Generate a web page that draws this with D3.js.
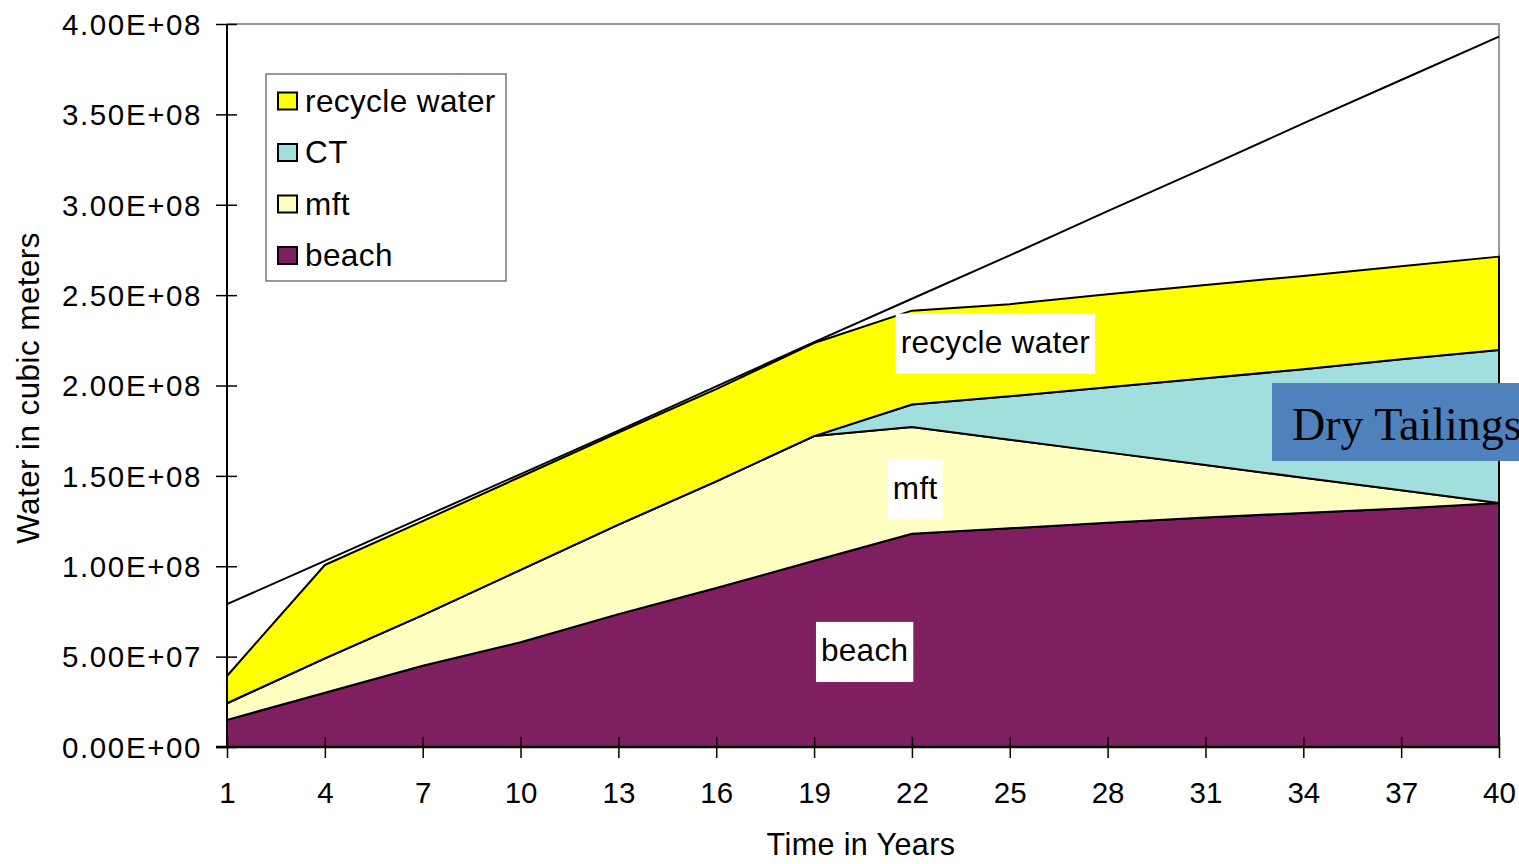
<!DOCTYPE html>
<html>
<head>
<meta charset="utf-8">
<script src="https://cdn.jsdelivr.net/npm/d3@7/dist/d3.min.js"></script>
<style>
  html, body { margin: 0; padding: 0; background: #fff; overflow: hidden; }
  svg { display: block; }
  text { font-family: "Liberation Sans", Arial, sans-serif; fill: #000; }
</style>
</head>
<body>
<svg id="chart" width="1519" height="864"></svg>
<script>
// Years on the category axis
const years = [1, 4, 7, 10, 13, 16, 19, 22, 25, 28, 31, 34, 37, 40];

// Stacked water volumes (cubic meters), bottom layer first
const beach   = [1.5e7, 3.0e7, 4.5e7, 5.8e7, 7.35e7, 8.8e7, 1.03e8, 1.18e8, 1.21e8, 1.24e8, 1.27e8, 1.295e8, 1.32e8, 1.35e8];
const mft     = [9.2e6, 1.9e7, 2.8e7, 4.0e7, 4.95e7, 5.9e7, 6.9e7, 5.9e7, 4.9e7, 3.9e7, 2.9e7, 1.95e7, 1.0e7, 0];
const ct      = [0, 0, 0, 0, 0, 0, 0, 1.25e7, 2.4e7, 3.6e7, 4.8e7, 6.0e7, 7.25e7, 8.46e7];
const recycle = [1.51e7, 5.17e7, 5.2e7, 5.15e7, 5.1e7, 5.1e7, 5.15e7, 5.19e7, 5.1e7, 5.15e7, 5.16e7, 5.16e7, 5.15e7, 5.17e7];

// Total water line drawn over the stack
const total = [7.9e7, 1.03e8, 1.27e8, 1.51e8, 1.75e8, 1.995e8, 2.24e8, 2.48e8, 2.72e8, 2.965e8, 3.205e8, 3.45e8, 3.69e8, 3.93e8];

// Axis ticks
const yTicks = [0, 5e7, 1e8, 1.5e8, 2e8, 2.5e8, 3e8, 3.5e8, 4e8];
const xTicks = years;

// Series names (stack order) and legend order
const seriesNames = ["beach", "mft", "CT", "recycle water"];
const legendNames = ["recycle water", "CT", "mft", "beach"];
const colors = { "beach": "#7f1f5f", "mft": "#ffffc2", "CT": "#a1dfdf", "recycle water": "#ffff00" };

// In-chart series labels: [text, year, value]
const areaLabels = [
  ["recycle water", 24.56, 2.232e8],
  ["mft", 22.1, 1.427e8],
  ["beach", 20.55, 5.26e7]
];
// Callout box for the dry tailings region: [text, year at left edge, value at centre]
const calloutText = "Dry Tailings";
const calloutAt = [33.04, 1.798e8];

const svg = d3.select("#chart");
const plotL = 227, plotR = 1499, plotT = 24, plotB = 747;

const x = d3.scaleLinear().domain([1, 40]).range([plotL, plotR]);
const y = d3.scaleLinear().domain([0, 4e8]).range([plotB, plotT]);

// Build table for stacking
const table = years.map((yr, i) => ({
  year: yr, "beach": beach[i], "mft": mft[i], "CT": ct[i], "recycle water": recycle[i]
}));
const stacked = d3.stack().keys(seriesNames)(table);

const area = d3.area()
  .x(d => x(d.data.year))
  .y0(d => y(d[0]))
  .y1(d => y(d[1]));

// Plot frame (top and right)
svg.append("path")
  .attr("d", `M${plotL},${plotT}H${plotR}V${plotB}`)
  .attr("fill", "none").attr("stroke", "#999").attr("stroke-width", 2);

// Stacked areas
svg.append("g").selectAll("path")
  .data(stacked)
  .join("path")
  .attr("d", area)
  .attr("fill", d => colors[d.key])
  .attr("stroke", "#000")
  .attr("stroke-width", 2)
  .attr("stroke-linejoin", "round");

// Total line
svg.append("path")
  .datum(years.map((yr, i) => [yr, total[i]]))
  .attr("d", d3.line().x(d => x(d[0])).y(d => y(d[1])))
  .attr("fill", "none").attr("stroke", "#000").attr("stroke-width", 2);

// Scientific tick format: 4.00E+08
function sci(v) {
  if (v === 0) return "0.00E+00";
  const e = Math.floor(Math.log10(v));
  const m = v / Math.pow(10, e);
  return m.toFixed(2) + "E" + (e >= 0 ? "+" : "-") + String(Math.abs(e)).padStart(2, "0");
}

// Y axis
const yAxis = svg.append("g")
  .attr("transform", `translate(${plotL},0)`)
  .call(d3.axisLeft(y).tickValues(yTicks).tickFormat(sci).tickSize(11).tickPadding(14));
yAxis.select(".domain").attr("stroke", "#000").attr("stroke-width", 2).attr("d", `M0,${plotT}V${plotB}`);
yAxis.selectAll(".tick line").attr("x1", 10).attr("x2", -11).attr("stroke", "#000").attr("stroke-width", 1.5);
yAxis.selectAll(".tick text")
  .attr("font-size", 29.5).attr("font-family", "Liberation Sans, Arial, sans-serif")
  .attr("letter-spacing", 1.6).attr("x", -25).attr("dy", "0.35em");

// X axis
const xAxis = svg.append("g")
  .attr("transform", `translate(0,${plotB})`)
  .call(d3.axisBottom(x).tickValues(xTicks).tickFormat(d3.format("d")).tickSize(11).tickPadding(24));
xAxis.select(".domain").attr("stroke", "#000").attr("stroke-width", 2.5).attr("d", `M${plotL - 11},0H${plotR}`);
xAxis.selectAll(".tick line").attr("y1", -10).attr("y2", 11).attr("stroke", "#000").attr("stroke-width", 1.5);
xAxis.selectAll(".tick text")
  .attr("font-size", 29.5).attr("font-family", "Liberation Sans, Arial, sans-serif")
  .attr("y", 56).attr("dy", 0);

// Axis titles
svg.append("text")
  .attr("x", 861).attr("y", 855)
  .attr("text-anchor", "middle").attr("font-size", 30.5).attr("letter-spacing", 0.4)
  .text("Time in Years");
svg.append("text")
  .attr("transform", "translate(39,388) rotate(-90)")
  .attr("text-anchor", "middle").attr("font-size", 31.5).attr("letter-spacing", 0.4)
  .text("Water in cubic meters");

// In-chart labels with white boxes
areaLabels.forEach(([t, yr, v]) => {
  const g = svg.append("g");
  const txt = g.append("text")
    .attr("x", x(yr)).attr("y", y(v))
    .attr("text-anchor", "middle").attr("dy", "0.3em")
    .attr("font-size", 31.5).attr("letter-spacing", 0.3)
    .text(t);
  const bb = txt.node().getBBox();
  g.insert("rect", "text")
    .attr("x", bb.x - 5).attr("y", y(v) - 30)
    .attr("width", bb.width + 10).attr("height", 60)
    .attr("fill", "#fff");
});

// Legend
const lg = svg.append("g");
lg.append("rect")
  .attr("x", 266).attr("y", 74).attr("width", 240).attr("height", 207)
  .attr("fill", "#fff").attr("stroke", "#555").attr("stroke-width", 1.2);
legendNames.forEach((name, i) => {
  const cy = 101 + i * 51.5;
  lg.append("rect")
    .attr("x", 278).attr("y", cy - 8.5).attr("width", 19).attr("height", 17)
    .attr("fill", colors[name]).attr("stroke", "#000").attr("stroke-width", 2);
  lg.append("text")
    .attr("x", 305).attr("y", cy).attr("dy", "0.34em")
    .attr("font-size", 31.5).attr("letter-spacing", 0.4)
    .text(name);
});

// Dry tailings callout (runs past the right edge of the drawing)
const cg = svg.append("g");
cg.append("rect")
  .attr("x", x(calloutAt[0])).attr("y", y(calloutAt[1]) - 39)
  .attr("width", 300).attr("height", 78)
  .attr("fill", "#4f81bd");
cg.append("text")
  .attr("x", x(calloutAt[0]) + 20).attr("y", y(calloutAt[1]) + 18)
  .attr("font-size", 46)
  .style("font-family", "'Liberation Serif', 'Times New Roman', serif")
  .text(calloutText);
</script>
</body>
</html>
